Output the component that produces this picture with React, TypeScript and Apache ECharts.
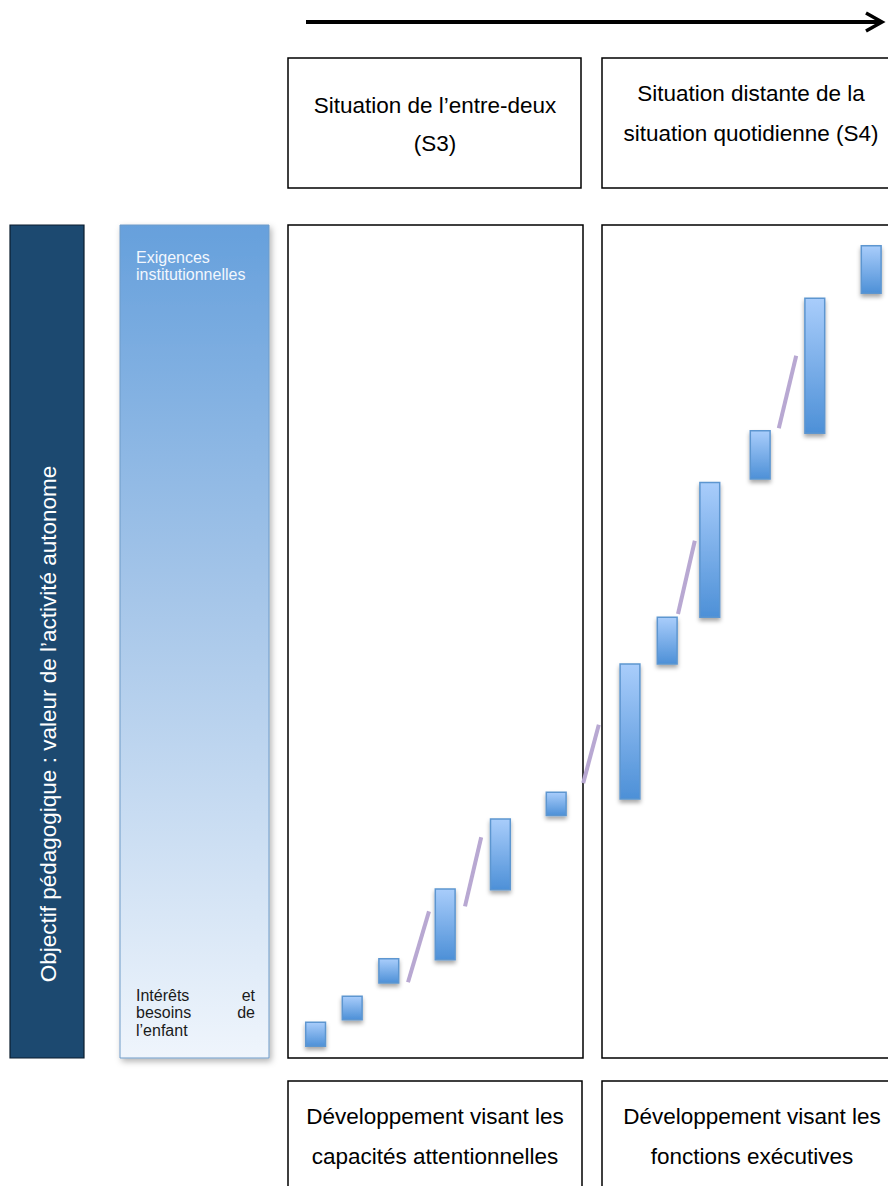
import React, { useEffect, useRef } from "react";
import * as echarts from "echarts";

// Steps of the progression (x: position along the situations axis, 0-100; y: pedagogical value, 0-100)
const STEP_X = [4.6, 10.7, 16.8, 26.2, 35.4, 44.7, 57.0, 63.2, 70.3, 78.7, 87.8, 97.2];
const STEP_LOW = [1.4, 4.6, 9.0, 11.8, 20.2, 29.1, 31.1, 47.3, 52.9, 69.5, 75.0, 91.8];
const STEP_HIGH = [4.3, 7.4, 11.9, 20.3, 28.7, 31.9, 47.3, 52.9, 69.1, 75.3, 91.2, 97.5];

// Connector strokes between steps
const LINK_X1 = [20.0, 29.5, 49.2, 65.0, 81.8];
const LINK_Y1 = [9.1, 18.2, 33.0, 53.3, 75.6];
const LINK_X2 = [23.5, 32.2, 51.8, 67.8, 84.7];
const LINK_Y2 = [17.6, 26.5, 40.0, 62.1, 84.3];

const TOP_S3 = ["Situation de l\u2019entre-deux", "(S3)"];
const TOP_S4 = ["Situation distante de la", "situation quotidienne (S4)"];
const BOTTOM_S3 = ["D\u00e9veloppement visant les", "capacit\u00e9s attentionnelles"];
const BOTTOM_S4 = ["D\u00e9veloppement visant les", "fonctions ex\u00e9cutives"];
const Y_TITLE = "Objectif p\u00e9dagogique : valeur de l\u2019activit\u00e9 autonome";
const TOP_SCALE = ["Exigences", "institutionnelles"];
const BOTTOM_SCALE = [["Int\u00e9r\u00eats", "et"], ["besoins", "de"], ["l\u2019enfant", ""]];

const FONT = '"Liberation Sans", Arial, Helvetica, sans-serif';
const BAR_W = 3.3;

export default function App() {
  const ref = useRef<HTMLDivElement>(null);

  useEffect(() => {
    if (!ref.current) return;
    const chart = echarts.init(ref.current, null, { renderer: "svg" });

    const box = (x: number, y: number, w: number, h: number) => ({
      type: "rect",
      z: 1,
      shape: { x, y, width: w, height: h },
      style: { fill: "#ffffff", stroke: "#000000", lineWidth: 1.5 },
    });
    const txt = (t: string, x: number, y: number, size: number, fill: string, align = "center", extra: any = {}) => ({
      type: "text",
      z: 3,
      x,
      y,
      ...extra,
      style: {
        text: t,
        font: `${size}px ${FONT}`,
        fill,
        textAlign: align,
        textVerticalAlign: "middle",
      },
    });

    const graphics: any[] = [
      // top arrow
      {
        type: "line",
        z: 3,
        shape: { x1: 306, y1: 22, x2: 880, y2: 22 },
        style: { stroke: "#000", lineWidth: 4 },
      },
      {
        type: "polyline",
        z: 3,
        shape: { points: [[866, 13], [882, 22], [866, 31]] },
        style: { stroke: "#000", lineWidth: 3.5, fill: "none" },
      },
      box(288, 58, 293, 130),
      box(602, 58, 330, 130),
      box(288, 225, 295, 833),
      box(602, 225, 330, 833),
      box(288, 1081, 294, 150),
      box(602, 1081, 330, 150),
      // dark y-title box
      {
        type: "rect",
        z: 1,
        shape: { x: 10, y: 225, width: 74, height: 833 },
        style: { fill: "#1c4970", stroke: "#0b1d2e", lineWidth: 1.2 },
      },
      // gradient scale box
      {
        type: "rect",
        z: 1,
        shape: { x: 120, y: 225, width: 149, height: 833 },
        style: {
          fill: new echarts.graphic.LinearGradient(0, 0, 0, 1, [
            { offset: 0, color: "#66a0dc" },
            { offset: 0.45, color: "#a6c6e9" },
            { offset: 1, color: "#eff5fc" },
          ]),
          stroke: "#6f9bc8",
          lineWidth: 1,
          shadowBlur: 6,
          shadowOffsetX: 2,
          shadowOffsetY: 3,
          shadowColor: "rgba(0,0,0,0.3)",
        },
      },
      txt(TOP_S3[0], 435, 105, 22.5, "#000"),
      txt(TOP_S3[1], 435, 143, 22.5, "#000"),
      txt(TOP_S4[0], 751, 93, 22.5, "#000"),
      txt(TOP_S4[1], 751, 133, 22.5, "#000"),
      txt(BOTTOM_S3[0], 435, 1116, 22.5, "#000"),
      txt(BOTTOM_S3[1], 435, 1156, 22.5, "#000"),
      txt(BOTTOM_S4[0], 752, 1116, 22.5, "#000"),
      txt(BOTTOM_S4[1], 752, 1156, 22.5, "#000"),
      txt(Y_TITLE, 48, 724, 22.5, "#ffffff", "center", { rotation: Math.PI / 2 }),
      txt(TOP_SCALE[0], 136, 257, 16, "#f2f7fd", "left"),
      txt(TOP_SCALE[1], 136, 274, 16, "#f2f7fd", "left"),
    ];
    BOTTOM_SCALE.forEach((pair, i) => {
      const y = 995 + i * 17.5;
      graphics.push(txt(pair[0], 136, y, 16, "#1a1a1a", "left"));
      if (pair[1]) graphics.push(txt(pair[1], 255, y, 16, "#1a1a1a", "right"));
    });

    const barData = STEP_X.map((x, i) => [x, STEP_LOW[i], STEP_HIGH[i]]);
    const linkData = LINK_X1.map((x, i) => [x, LINK_Y1[i], LINK_X2[i], LINK_Y2[i]]);

    chart.setOption({
      animation: false,
      grid: { left: 288, top: 225, width: 600, height: 833, containLabel: false },
      xAxis: { type: "value", min: 0, max: 100, show: false },
      yAxis: { type: "value", min: 0, max: 100, show: false },
      graphic: graphics,
      series: [
        {
          type: "custom",
          z: 10,
          clip: false,
          data: linkData,
          encode: { x: [0, 2], y: [1, 3] },
          renderItem: (_p: any, api: any) => {
            const a = api.coord([api.value(0), api.value(1)]);
            const b = api.coord([api.value(2), api.value(3)]);
            return {
              type: "line",
              shape: { x1: a[0], y1: a[1], x2: b[0], y2: b[1] },
              style: { stroke: "#b8a8d2", lineWidth: 4, lineCap: "butt" },
            };
          },
        },
        {
          type: "custom",
          z: 11,
          clip: false,
          data: barData,
          encode: { x: 0, y: [1, 2] },
          renderItem: (_p: any, api: any) => {
            const x = api.value(0);
            const top = api.coord([x, api.value(2)]);
            const bot = api.coord([x, api.value(1)]);
            const w = api.size([BAR_W, 0])[0];
            return {
              type: "rect",
              shape: { x: top[0] - w / 2, y: top[1], width: w, height: bot[1] - top[1] },
              style: {
                fill: new echarts.graphic.LinearGradient(0, 0, 0, 1, [
                  { offset: 0, color: "#a9cdfb" },
                  { offset: 1, color: "#4d90d7" },
                ]),
                stroke: "#5d96d0",
                lineWidth: 1.5,
                shadowBlur: 4,
                shadowOffsetY: 3,
                shadowColor: "rgba(0,0,0,0.35)",
              },
            };
          },
        },
      ],
    });

    return () => chart.dispose();
  }, []);

  return (
    <div
      ref={ref}
      style={{ position: "absolute", left: 0, top: 0, width: 888, height: 1186, background: "#ffffff" }}
    />
  );
}
